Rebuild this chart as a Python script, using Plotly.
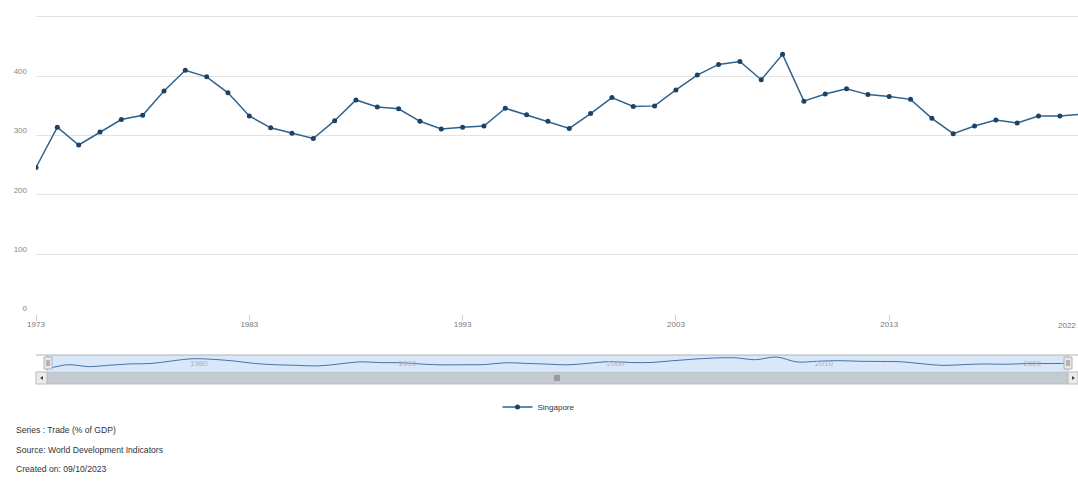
import plotly.graph_objects as go

# ---- data ----
years = list(range(1973, 2023))
trade_pct_gdp = [246, 314, 284, 306, 327, 334, 375, 410, 399, 372,
                 333, 313, 304, 295, 325, 360, 348, 345, 324, 311,
                 314, 316, 346, 335, 324, 312, 337, 364, 349, 350,
                 377, 402, 420, 425, 394, 437, 358, 370, 379, 369,
                 366, 361, 329, 303, 316, 326, 321, 333, 333, 336]
main_ticks = [1973, 1983, 1993, 2003, 2013]
last_tick = 2022
nav_ticks = [1980, 1990, 2000, 2010, 2020]
y_ticks = [0, 100, 200, 300, 400, 500]
y_ticktext = ["0", "100", "200", "300", "400", ""]
series_name = "Singapore"
footer_lines = ["Series : Trade (% of GDP)",
                "Source: World Development Indicators",
                "Created on: 09/10/2023"]

W, H = 1078, 493
def px(x):
    return x / W
def py(y):
    return 1 - y / H

FONT = "Liberation Sans, Arial, sans-serif"

X_LEFT_PX, X_RIGHT_PX = 36, 1078
X_RANGE = [1973, 2021.85]

fig = go.Figure()
fig.add_trace(go.Scatter(
    x=years, y=trade_pct_gdp, mode="lines+markers", name=series_name,
    line=dict(color="#2f628c", width=1.5),
    marker=dict(color="#1c4266", size=5),
    xaxis="x", yaxis="y", showlegend=True))
fig.add_trace(go.Scatter(
    x=years, y=trade_pct_gdp, mode="lines", line_shape="spline",
    line=dict(color="#4572a7", width=1), xaxis="x2", yaxis="y2",
    showlegend=False, hoverinfo="skip"))

shapes = []
# navigator background
shapes.append(dict(type="rect", xref="paper", yref="paper", x0=px(47), x1=px(1068),
                   y0=py(371), y1=py(355), fillcolor="#d9e8f9", line_width=0, layer="below"))
# outline
shapes.append(dict(type="line", xref="paper", yref="paper", x0=px(36), x1=px(1078),
                   y0=py(355), y1=py(355), line=dict(color="#b2b1b6", width=1)))
for xx in (47, 1068):
    shapes.append(dict(type="line", xref="paper", yref="paper", x0=px(xx), x1=px(xx),
                       y0=py(371), y1=py(355), line=dict(color="#b2b1b6", width=1)))
# handles
for xx in (44, 1064):
    shapes.append(dict(type="rect", xref="paper", yref="paper", x0=px(xx), x1=px(xx + 8),
                       y0=py(369), y1=py(357), fillcolor="#ebe7e8",
                       line=dict(color="#b2b1b6", width=1)))
    for g in (3, 5):
        shapes.append(dict(type="line", xref="paper", yref="paper", x0=px(xx + g), x1=px(xx + g),
                           y0=py(366), y1=py(360), line=dict(color="#666", width=0.8)))
# scrollbar bar
shapes.append(dict(type="rect", xref="paper", yref="paper", x0=px(47), x1=px(1068),
                   y0=py(384), y1=py(372), fillcolor="#c3cad2",
                   line=dict(color="#b8bec6", width=1)))
for g in (-2, 0, 2):
    shapes.append(dict(type="line", xref="paper", yref="paper", x0=px(557 + g), x1=px(557 + g),
                       y0=py(381), y1=py(375), line=dict(color="#555", width=0.8)))
# scrollbar buttons
for x0, x1 in ((36, 47), (1068, 1078)):
    shapes.append(dict(type="rect", xref="paper", yref="paper", x0=px(x0), x1=px(x1),
                       y0=py(384), y1=py(372), fillcolor="#ebebeb",
                       line=dict(color="#bbbbbb", width=1)))
# arrows
shapes.append(dict(type="path", xref="paper", yref="paper",
                   path=f"M {px(40)} {py(378)} L {px(43)} {py(376)} L {px(43)} {py(380)} Z",
                   fillcolor="#444", line_width=0))
shapes.append(dict(type="path", xref="paper", yref="paper",
                   path=f"M {px(1075)} {py(378)} L {px(1072)} {py(376)} L {px(1072)} {py(380)} Z",
                   fillcolor="#444", line_width=0))

annotations = []
for i, t in enumerate(footer_lines):
    annotations.append(dict(text=t, xref="paper", yref="paper", x=px(14), y=py(430 + 19.5 * i),
                            xanchor="left", yanchor="middle", showarrow=False,
                            font=dict(family=FONT, size=8.6, color="#333")))
# last x tick label: its tick lies just past the right edge, so keep the text inside the page
annotations.append(dict(text=str(last_tick), xref="paper", yref="paper", x=1, y=py(325),
                        xanchor="right", yanchor="middle", showarrow=False,
                        font=dict(family=FONT, size=8, color="#777")))

fig.update_layout(
    width=W, height=H,
    margin=dict(l=0, r=0, t=0, b=0),
    paper_bgcolor="white", plot_bgcolor="rgba(0,0,0,0)",
    font=dict(family=FONT),
    xaxis=dict(domain=[px(X_LEFT_PX), px(X_RIGHT_PX)], range=X_RANGE, tickvals=main_ticks,
               ticktext=[str(t) for t in main_ticks], ticks="outside", ticklen=6,
               tickcolor="#c0d0e0", tickfont=dict(size=8, color="#777"),
               ticklabelstandoff=-4,
               showgrid=False, zeroline=False, showline=True, linecolor="white", linewidth=2,
               anchor="y", automargin=False, fixedrange=True),
    yaxis=dict(domain=[py(313.3), py(15.8)], range=[0, 502], tickvals=y_ticks,
               ticktext=y_ticktext, tickfont=dict(size=8, color="#888"),
               ticklabelstandoff=8, ticklabelshift=-5,
               showgrid=True, gridcolor="#e3e3e3", gridwidth=1, zeroline=False,
               showline=False, anchor="x", automargin=False, fixedrange=True),
    xaxis2=dict(domain=[px(47), px(1068)], range=[1973, 2022], tickvals=nav_ticks,
                ticktext=[str(t) for t in nav_ticks], ticklabelposition="inside",
                ticks="", tickfont=dict(size=8, color="#a8b0bb"), ticklabelshift=6,
                showgrid=False, zeroline=False, showline=False, anchor="y2",
                automargin=False, fixedrange=True),
    yaxis2=dict(domain=[py(371), py(355)], range=[214, 469], visible=False,
                anchor="x2", fixedrange=True),
    legend=dict(orientation="h", x=0.5, xanchor="center", y=py(407), yanchor="middle",
                font=dict(family=FONT, size=8, color="#333"), itemwidth=30,
                bgcolor="rgba(0,0,0,0)"),
    shapes=shapes, annotations=annotations,
)

fig.write_html("out.html", post_script="document.body.style.margin='0';",
               config={"displayModeBar": False})
